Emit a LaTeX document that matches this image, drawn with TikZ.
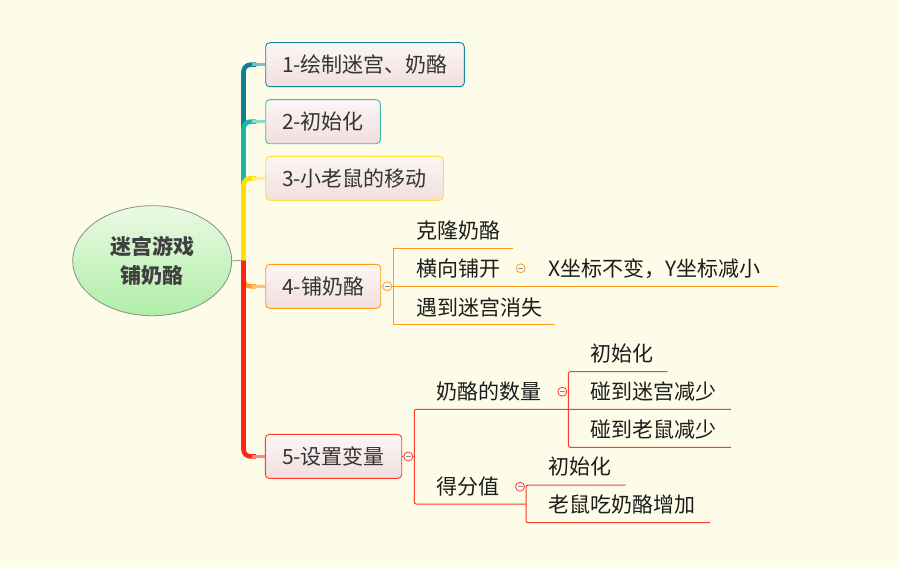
\documentclass[tikz,border=0pt]{standalone}
\usepackage{fontspec}
\setmainfont{Noto Sans CJK SC}
\usetikzlibrary{shapes.geometric}
\definecolor{bg}{HTML}{FDFCE9}
\definecolor{cA}{HTML}{0F7E92}
\definecolor{cAl}{HTML}{78BEC6}
\definecolor{cAb}{HTML}{1A8598}
\definecolor{cB}{HTML}{17B7A2}
\definecolor{cBl}{HTML}{8CD8CC}
\definecolor{cBb}{HTML}{3ABDAF}
\definecolor{cC}{HTML}{FFE100}
\definecolor{cCl}{HTML}{FFEF85}
\definecolor{cCb}{HTML}{FFE040}
\definecolor{cD}{HTML}{FFA12A}
\definecolor{cDl}{HTML}{FFC274}
\definecolor{cDb}{HTML}{FF9A1A}
\definecolor{cE}{HTML}{FF2412}
\definecolor{cEl}{HTML}{FF8A7A}
\definecolor{cEb}{HTML}{FF3B2B}
\definecolor{boxtop}{HTML}{FBF6F5}
\definecolor{boxbot}{HTML}{F2DEDE}
\definecolor{eltop}{HTML}{EAF9E4}
\definecolor{elbot}{HTML}{B0EEA6}
\definecolor{txt}{HTML}{333333}
\definecolor{txtb}{HTML}{1C1C1C}
\definecolor{minusc}{HTML}{8290B8}
\definecolor{togfill}{HTML}{FFFDF2}
\newcommand{\mns}{{\color{minusc}\rule[-0.5pt]{5pt}{1pt}}}
\begin{document}
\begin{tikzpicture}[x=1pt,y=-1pt,
  topic/.style={draw=#1, rounded corners=4pt, top color=boxtop, bottom color=boxbot,
    line width=0.9pt, minimum height=44pt, inner sep=0pt, text height=15.6pt, text depth=0pt,
    font=\fontsize{21}{25}\selectfont, text=txt},
  sub/.style={anchor=west, inner sep=0pt, text height=15.6pt, text depth=0pt,
    font=\fontsize{21}{25}\selectfont, text=txtb},
  tog/.style={circle, draw=#1, fill=togfill, minimum size=9pt, inner sep=0pt, line width=0.8pt},
  br/.style={line width=4.6pt, draw=#1, rounded corners=7pt},
  brl/.style={line width=2.4pt, draw=#1},
  oline/.style={draw=cDb, line width=1pt},
  rline/.style={draw=cEb, line width=1pt, rounded corners=2pt}]
\fill[bg] (0,0) rectangle (899,567);
\useasboundingbox (0,0) rectangle (899,567);

% root
\node[ellipse, draw=black!45, line width=0.8pt, top color=eltop, bottom color=elbot,
  minimum width=159pt, minimum height=110pt, inner sep=0pt, align=center,
  font=\bfseries\fontsize{21}{29.3}\selectfont, text=black!75] (root) at (152.2,260.7) {迷宫游戏\\铺奶酪};

% topics
\node[topic=cAb, minimum width=198.6pt] (b1) at (365,64.7) {1-绘制迷宫、奶酪};
\node[topic=cBb, minimum width=114.6pt] (b2) at (323,121.7) {2-初始化};
\node[topic=cCb, minimum width=177.6pt] (b3) at (354.5,178.3) {3-小老鼠的移动};
\node[topic=cDb, minimum width=115pt] (b4) at (323.2,286.3) {4-铺奶酪};
\node[topic=cEb, minimum width=136.4pt] (b5) at (333.5,456.4) {5-设置变量};

% branches
\coordinate (hub) at (243.5,260.5);
\draw[line width=0.8pt, black!40] (root.east) -- (hub);
\draw[br=cA] (hub) |- ([xshift=-9pt]b1.west);
\draw[brl=cAl] ([xshift=-13pt]b1.west) -- (b1.west);
\draw[br=cB] (hub) |- ([xshift=-9pt]b2.west);
\draw[brl=cBl] ([xshift=-13pt]b2.west) -- (b2.west);
\draw[br=cC] (hub) |- ([xshift=-9pt]b3.west);
\draw[brl=cCl] ([xshift=-13pt]b3.west) -- (b3.west);
\draw[br=cD] (hub) |- ([xshift=-9pt]b4.west);
\draw[brl=cDl] ([xshift=-13pt]b4.west) -- (b4.west);
\draw[br=cE] (hub) |- ([xshift=-9pt]b5.west);
\draw[brl=cEl] ([xshift=-13pt]b5.west) -- (b5.west);

% group 4
\node[tog=cDb] (t4) at (387.3,286.3) {\mns};
\coordinate (v4a) at (393.3,248.3);
\coordinate (v4m) at (393.3,286.3);
\coordinate (v4b) at (393.3,324);
\coordinate (u41) at (513.3,248.3);
\coordinate (u42) at (778.3,286.3);
\coordinate (u43) at (555,324);
\draw[oline] (b4.east) -- (t4.west);
\draw[oline] (t4.east) -- (v4m);
\draw[oline] (v4a) -- (v4b);
\draw[oline] (v4a) -- (u41);
\draw[oline] (v4m) -- (u42);
\draw[oline] (v4b) -- (u43);
\node[sub] (n41) at (416,231) {克隆奶酪};
\node[sub] (n42) at (416,268.3) {横向铺开};
\node[sub] (n43) at (416,307.7) {遇到迷宫消失};
\node[tog=cDb] (t42) at (520.7,268.3) {\mns};
\node[sub] (n421) at (548.3,268.3) {X坐标不变，Y坐标减小};

% group 5
\node[tog=cEb] (t5) at (408.3,456.5) {\mns};
\coordinate (v5a) at (414.3,409.3);
\coordinate (v5m) at (414.3,456.5);
\coordinate (v5b) at (414.3,504);
\coordinate (u51) at (731,409.3);
\coordinate (u52) at (526,504);
\draw[rline] (b5.east) -- (t5.west);
\draw[rline] (t5.east) -- (v5m);
\draw[rline] (u51) -- (v5a) -- (v5b) -- (u52);
\node[sub] (n51) at (436,391.7) {奶酪的数量};
\node[sub] (n52) at (436,486.7) {得分值};

\node[tog=cEb] (t51) at (562.3,391.7) {\mns};
\coordinate (w1a) at (568.3,371.7);
\coordinate (w1b) at (568.3,447.3);
\coordinate (x511) at (667.7,371.7);
\coordinate (x513) at (731,447.3);
\draw[rline] (x511) -- (w1a) -- (w1b) -- (x513);
\node[sub] (n511) at (590,353.3) {初始化};
\node[sub] (n512) at (590,391.7) {碰到迷宫减少};
\node[sub] (n513) at (590,429.3) {碰到老鼠减少};

\node[tog=cEb] (t52) at (520,486.7) {\mns};
\coordinate (w2a) at (526,485);
\coordinate (w2b) at (526,522.7);
\coordinate (x521) at (625.7,485);
\coordinate (x522) at (710,522.7);
\draw[rline] (x521) -- (w2a) -- (w2b) -- (x522);
\node[sub] (n521) at (548.3,466.7) {初始化};
\node[sub] (n522) at (548.3,505) {老鼠吃奶酪增加};
\end{tikzpicture}
\end{document}
